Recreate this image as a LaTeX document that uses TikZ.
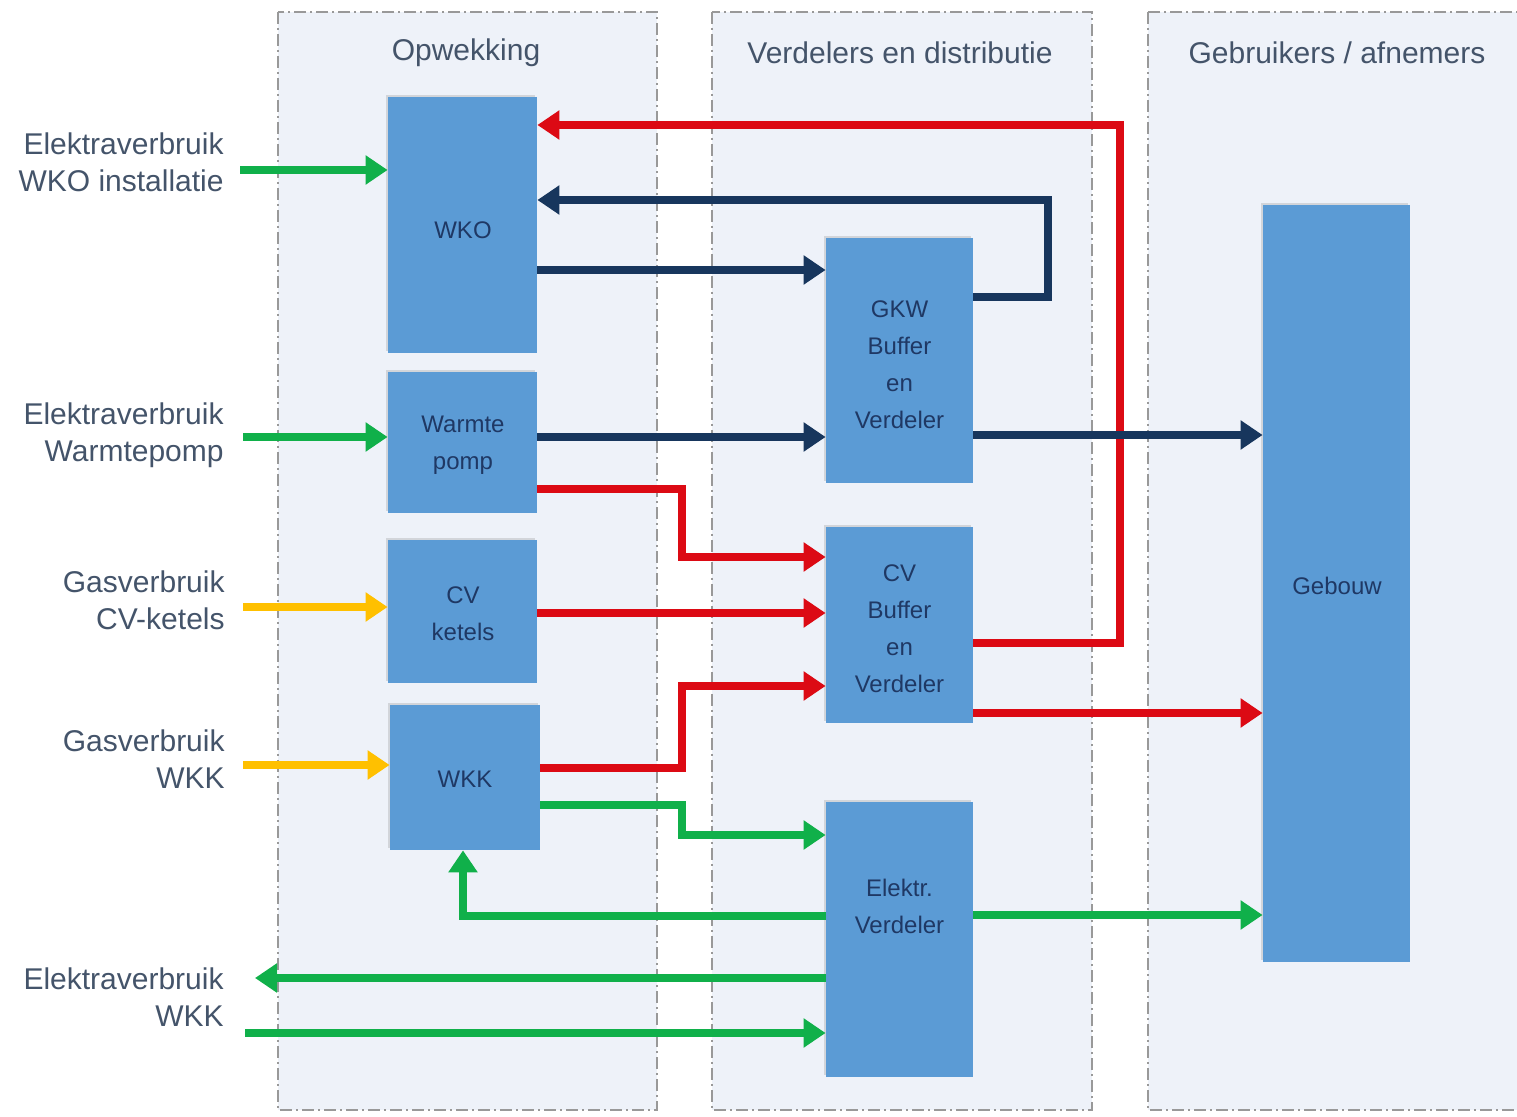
\documentclass[tikz,border=0pt]{standalone}
\usepackage{fontspec}
\setmainfont{Liberation Sans}
\usetikzlibrary{arrows.meta,shadows}
\definecolor{panelfill}{HTML}{EEF2F9}
\definecolor{boxfill}{HTML}{5B9BD5}
\definecolor{boxtext}{HTML}{1F3864}
\definecolor{labtext}{HTML}{44546A}
\definecolor{cgreen}{HTML}{10B04A}
\definecolor{cred}{HTML}{DC0A14}
\definecolor{cnavy}{HTML}{17365D}
\definecolor{cyellow}{HTML}{FFC000}
\tikzset{
  panel/.style={draw=gray!80, fill=panelfill, line width=0.8pt, dash pattern=on 6pt off 2pt on 1pt off 2pt},
  ptitle/.style={text=labtext, font=\fontsize{15}{18}\selectfont},
  box/.style={fill=boxfill, inner sep=0pt, drop shadow={opacity=0.25, shadow xshift=-1pt, shadow yshift=1pt}},
  btext/.style={text=boxtext, align=center, font=\fontsize{12}{18.5}\selectfont},
  lab/.style={text=labtext, align=right, anchor=east, inner sep=0pt, font=\fontsize{15}{18.5}\selectfont},
  flow/.style={line width=4.3pt, line join=miter, -{Triangle[length=11pt,width=14pt]}},
  fgreen/.style={flow, draw=cgreen},
  fred/.style={flow, draw=cred},
  fnavy/.style={flow, draw=cnavy},
  fyellow/.style={flow, draw=cyellow},
}
\begin{document}
\begin{tikzpicture}[x=0.5pt,y=-0.5pt]
\useasboundingbox (0,0) rectangle (1517,1117);
% panels
\draw[panel] (278,12) rectangle (657,1110);
\draw[panel] (712,12) rectangle (1092,1110);
\draw[panel] (1148,12) rectangle (1530,1110);
\node[ptitle] (t1) at (466,53) {Opwekking};
\node[ptitle] (t2) at (900,53) {Verdelers en distributie};
\node[ptitle] (t3) at (1337,53) {Gebruikers / afnemers};

% boxes
\node[box, minimum width=74.5pt, minimum height=128pt] (wko) at (462.5,225) {};
\node[box, minimum width=74.5pt, minimum height=70.5pt] (wp) at (462.5,442.5) {};
\node[box, minimum width=74.5pt, minimum height=71.5pt] (cv) at (462.5,611.5) {};
\node[box, minimum width=75pt, minimum height=72.5pt] (wkk) at (465,777.5) {};
\node[box, minimum width=73.5pt, minimum height=122.5pt] (gkw) at (899.5,360.5) {};
\node[box, minimum width=73.5pt, minimum height=98pt] (cvb) at (899.5,625) {};
\node[box, minimum width=73.5pt, minimum height=137.5pt] (el) at (899.5,939.5) {};
\node[box, minimum width=73.5pt, minimum height=378.5pt] (geb) at (1336.5,583.5) {};

\node[btext] (wkot) at (463,230) {WKO};
\node[btext] (wpt) at (463,445) {Warmte\\pomp};
\node[btext] (cvt) at (463,614) {CV\\ketels};
\node[btext] (wkkt) at (465,779) {WKK};
\node[btext] (gkwt) at (899.5,365) {GKW\\Buffer\\en\\Verdeler};
\node[btext] (cvbt) at (899.5,629) {CV\\Buffer\\en\\Verdeler};
\node[btext] (elt) at (899.5,906) {Elektr.\\Verdeler};
\node[btext] (gebt) at (1337,586) {Gebouw};

% left labels
\node[lab] (l1) at (224,162) {Elektraverbruik\\WKO installatie};
\node[lab] (l2) at (224,435) {Elektraverbruik\\Warmtepomp};
\node[lab] (l3) at (225,600) {Gasverbruik\\CV-ketels};
\node[lab] (l4) at (225,759) {Gasverbruik\\WKK};
\node[lab] (l5) at (224,997) {Elektraverbruik\\WKK};

% free ends
\coordinate (i1) at (240,170);
\coordinate (i2) at (243,437);
\coordinate (i3) at (243,607);
\coordinate (i4) at (243,765);
\coordinate (o5) at (255,978);
\coordinate (i6) at (245,1033);

% input arrows
\draw[fgreen] (i1) -- (wko.west |- i1);
\draw[fgreen] (i2) -- (wp.west |- i2);
\draw[fyellow] (i3) -- (cv.west |- i3);
\draw[fyellow] (i4) -- (wkk.west |- i4);

% red return loop
\draw[fred] (cvb.east |- 0,643) -- (1120,643) -- (1120,125) -- (wko.east |- 0,125);
% navy loop
\draw[fnavy] (gkw.east |- 0,297) -- (1048,297) -- (1048,200) -- (wko.east |- 0,200);
\draw[fnavy] (wko.east |- 0,270) -- (gkw.west |- 0,270);
\draw[fnavy] (wp.east |- 0,437) -- (gkw.west |- 0,437);
\draw[fnavy] (gkw.east |- 0,435) -- (geb.west |- 0,435);

% red to CV buffer
\draw[fred] (wp.east |- 0,489) -- (682,489) -- (682,557) -- (cvb.west |- 0,557);
\draw[fred] (cv.east |- 0,613) -- (cvb.west |- 0,613);
\draw[fred] (wkk.east |- 0,768) -- (682,768) -- (682,686) -- (cvb.west |- 0,686);
\draw[fred] (cvb.east |- 0,713) -- (geb.west |- 0,713);

% green electricity
\draw[fgreen] (wkk.east |- 0,805) -- (682,805) -- (682,835) -- (el.west |- 0,835);
\draw[fgreen] (el.west |- 0,916) -- (463,916) -- (wkk.south -| 463,0);
\draw[fgreen] (el.east |- 0,915) -- (geb.west |- 0,915);
\draw[fgreen] (el.west |- 0,978) -- (o5);
\draw[fgreen] (i6) -- (el.west |- 0,1033);
\end{tikzpicture}
\end{document}
